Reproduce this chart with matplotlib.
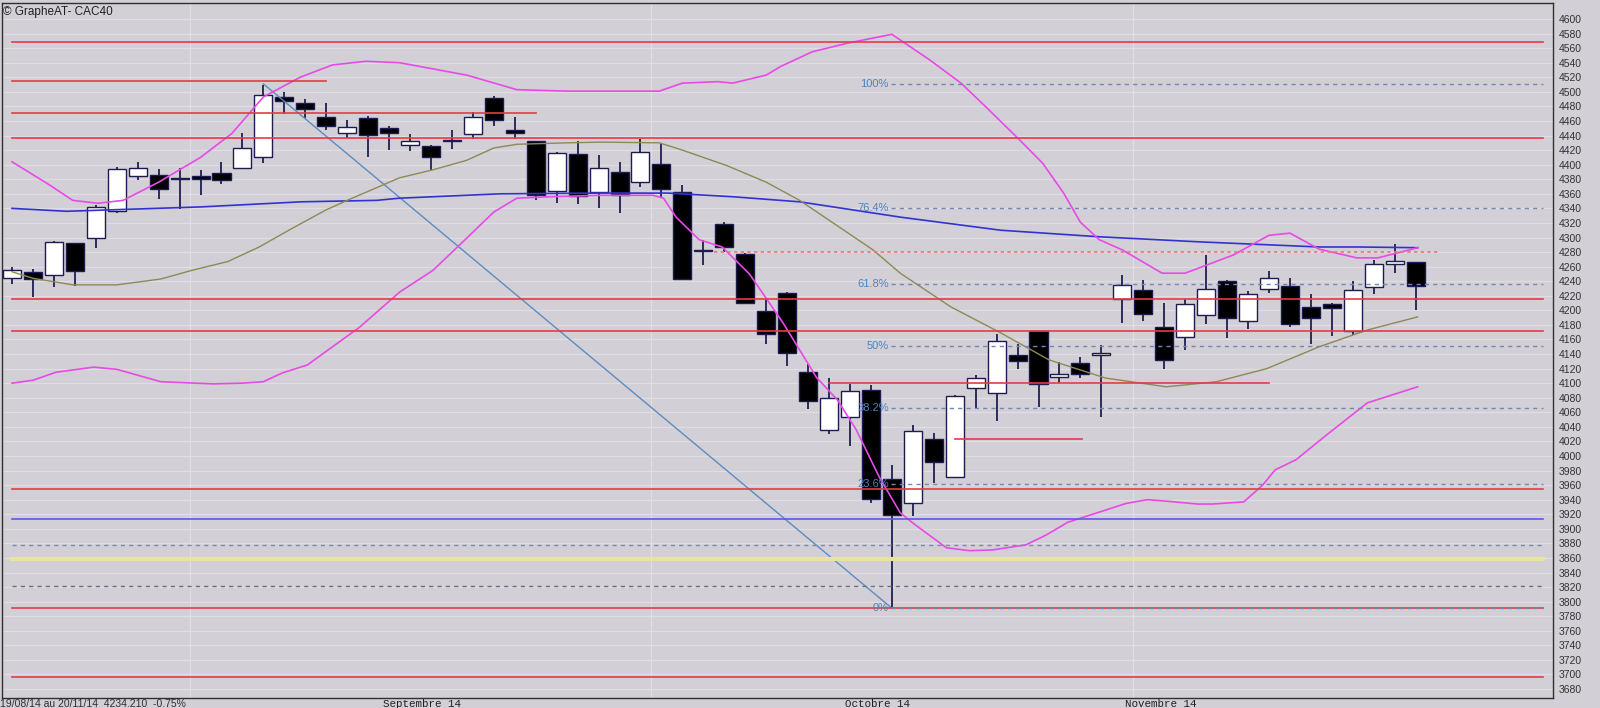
import matplotlib.pyplot as plt
from matplotlib.transforms import blended_transform_factory

# daily candles, 19/08/14 -> 20/11/14 (CAC40)
opens = [4244, 4252, 4248, 4292, 4300, 4337, 4385, 4386, 4381, 4384,
         4389, 4395, 4410, 4493, 4485, 4466, 4443, 4464, 4451, 4427,
         4426, 4433, 4442, 4492, 4448, 4432, 4364, 4415, 4362, 4390,
         4376, 4401, 4363, 4281, 4318, 4278, 4199, 4224, 4116, 4035,
         4054, 4091, 3969, 3936, 4024, 3971, 4093, 4087, 4139, 4171,
         4109, 4128, 4138, 4215, 4228, 4177, 4164, 4194, 4240, 4185,
         4229, 4233, 4204, 4209, 4171, 4232, 4264, 4266]
highs = [4260, 4257, 4295, 4293, 4344, 4397, 4403, 4394, 4396, 4393,
         4403, 4444, 4510, 4500, 4490, 4485, 4461, 4467, 4453, 4442,
         4427, 4447, 4473, 4494, 4465, 4433, 4418, 4432, 4413, 4403,
         4435, 4428, 4372, 4297, 4321, 4279, 4215, 4225, 4126, 4107,
         4099, 4097, 3988, 4043, 4032, 4084, 4111, 4168, 4154, 4172,
         4129, 4136, 4152, 4249, 4241, 4210, 4215, 4276, 4241, 4227,
         4254, 4244, 4222, 4210, 4240, 4269, 4291, 4267]
lows = [4236, 4218, 4232, 4234, 4286, 4334, 4379, 4353, 4339, 4358,
        4374, 4395, 4402, 4470, 4464, 4448, 4436, 4411, 4420, 4419,
        4393, 4422, 4435, 4453, 4435, 4351, 4348, 4346, 4341, 4334,
        4370, 4356, 4243, 4262, 4280, 4210, 4154, 4124, 4065, 4030,
        4014, 3935, 3791, 3917, 3963, 3970, 4064, 4048, 4120, 4067,
        4100, 4107, 4053, 4182, 4186, 4119, 4146, 4181, 4162, 4175,
        4224, 4177, 4154, 4165, 4166, 4223, 4251, 4201]
closes = [4255, 4243, 4294, 4254, 4342, 4394, 4396, 4367, 4380, 4380,
          4379, 4423, 4495, 4487, 4476, 4453, 4452, 4441, 4443, 4432,
          4410, 4434, 4466, 4461, 4444, 4359, 4416, 4357, 4395, 4358,
          4417, 4367, 4243, 4282, 4287, 4210, 4168, 4142, 4075, 4080,
          4089, 3941, 3919, 4034, 3992, 4082, 4107, 4158, 4130, 4099,
          4113, 4112, 4142, 4235, 4195, 4132, 4209, 4229, 4190, 4223,
          4245, 4181, 4189, 4203, 4228, 4263, 4268, 4234]

# bollinger bands / moving averages (candle index, value)
upper_x = [0, 1.8, 2.9, 4.1, 5.3, 7.0, 9.0, 10.5, 12.0, 13.75, 15.3, 16.9, 18.5,
           21.7, 24.1, 26.5, 30.9, 32.0, 33.7, 34.4, 36.0, 36.7, 38.2, 39.9, 42.0,
           43.8, 45.3, 46.5, 48.1, 49.2, 50.2, 51.0, 51.9, 53.0, 54.9, 56.0, 58.3,
           60.0, 61.0, 62.4, 64.2, 65.2, 67.1]
upper_y = [4404, 4372, 4351, 4347, 4351, 4376, 4410, 4443, 4493, 4520, 4537, 4542, 4540,
           4523, 4503, 4501, 4501, 4512, 4514, 4512, 4523, 4535, 4555, 4567, 4579,
           4544, 4512, 4479, 4434, 4402, 4361, 4321, 4297, 4283, 4251, 4251, 4276,
           4303, 4306, 4284, 4272, 4272, 4286]
lower_x = [0, 1, 2.1, 3.9, 5.0, 7.1, 9.6, 11.0, 12.0, 12.9, 14.1, 15.3, 16.6, 18.5,
           20.1, 21.7, 23.0, 24.1, 25.7, 28.1, 30.6, 31.1, 31.7, 32.8, 33.9, 35.2,
           36.8, 38.4, 39.4, 40.3, 41.4, 42.4, 43.0, 44.6, 45.7, 46.8, 48.4, 49.4,
           50.4, 51.8, 53.2, 54.2, 55.1, 56.6, 57.3, 58.8, 59.7, 60.3, 61.3, 62.8,
           64.7, 67.1]
lower_y = [4100, 4104, 4115, 4122, 4119, 4102, 4099, 4100, 4102, 4114, 4125, 4150, 4177, 4225,
           4255, 4299, 4335, 4354, 4356, 4358, 4358, 4354, 4328, 4297, 4287, 4250,
           4183, 4108, 4077, 4036, 3971, 3922, 3908, 3874, 3870, 3871, 3878, 3892,
           3909, 3922, 3935, 3940, 3938, 3934, 3934, 3937, 3960, 3981, 3995, 4030,
           4073, 4095]
mid_x = [0, 1, 2.9, 5.0, 7.1, 8.6, 10.3, 11.8, 13.4, 15.0, 16.0, 18.5, 20.1, 21.7,
         23.0, 24.1, 26.5, 28.1, 30.9, 32.0, 34.1, 36.0, 37.6, 41.1, 42.4, 44.8,
         47.2, 49.5, 52.2, 55.1, 57.5, 59.9, 62.4, 64.7, 67.1]
mid_y = [4253, 4244, 4235, 4235, 4243, 4255, 4267, 4287, 4313, 4338, 4351, 4382, 4393, 4406,
         4423, 4428, 4430, 4431, 4430, 4420, 4399, 4376, 4351, 4283, 4251, 4205,
         4169, 4132, 4107, 4095, 4102, 4120, 4150, 4173, 4191]
ma_x = [0, 2.6, 5.8, 9.0, 13.8, 17.4, 18.5, 23.3, 28.1, 31.3, 34.4, 37.6, 42.4,
        47.2, 51.9, 56.7, 62.4, 64.2, 67.1]
ma_y = [4340, 4336, 4339, 4342, 4349, 4351, 4354, 4360, 4361, 4361, 4356, 4349, 4328,
        4310, 4301, 4294, 4287, 4287, 4286]

# horizontal levels
red_full = [4568, 4437, 4215, 4172, 3955, 3791, 3697]
red_short = [(4515, 0, 15.0), (4471, 0, 25.0), (4100, 39.0, 60.0), (4024, 45.0, 51.1)]
fib_high, fib_low = 4511, 3791
fib_pcts = [100, 76.4, 61.8, 50, 38.2, 23.6, 0]
fib_labels = ['100%', '76.4%', '61.8%', '50%', '38.2%', '23.6%', '0%']
dashed_full = [3878, 3821]
month_labels = ['Septembre 14', 'Octobre 14', 'Novembre 14']
month_pos = [17.71, 39.76, 53.13]
month_breaks = [8.5, 30.5, 53.5]

BG = '#d3cfd6'
XR = 73.08

fig = plt.figure(figsize=(16, 7.08), dpi=100, facecolor=BG)
ax = fig.add_axes([0.00144, 0.01455, 0.96919, 0.98079], facecolor=BG)
ax.set_xlim(-0.463, 73.56)
ax.set_ylim(3668.1, 4621.6)

# grid
for v in range(3680, 4601, 20):
    ax.axhline(v, color='#e0dde3', lw=0.9, zorder=0)
for b in month_breaks:
    ax.axvline(b, color='#e0dde3', lw=0.9, zorder=0)

# candles
n = len(opens)
for i in range(n):
    o, h, l, c = opens[i], highs[i], lows[i], closes[i]
    up = c >= o
    ax.vlines(i, l, h, color='#2c2c5a', lw=1.4, zorder=2)
    bot = min(o, c)
    hgt = max(abs(c - o), 1.5)
    ax.bar(i, hgt, bottom=bot, width=0.86,
           color='white' if up else 'black',
           edgecolor='#1c1c50', lw=1.0, zorder=3)

# indicator lines
ax.plot(ma_x, ma_y, color='#3232d2', lw=1.2, zorder=5)
ax.plot(mid_x, mid_y, color='#8c8a55', lw=1.0, zorder=5)
ax.plot(upper_x, upper_y, color='#e84ae8', lw=1.2, zorder=5)
ax.plot(lower_x, lower_y, color='#e84ae8', lw=1.2, zorder=5)

# trend line high -> low
ax.plot([12, 42], [fib_high, fib_low], color='#5a8cc0', lw=1.0, zorder=4)

# levels
for v in red_full:
    ax.plot([0, XR], [v, v], color='#e23c46', lw=1.2, zorder=6)
for v, a, b in red_short:
    ax.plot([a, b], [v, v], color='#e23c46', lw=1.2, zorder=6)
ax.plot([33.5, 68.1], [4280, 4280], color='#e87878', lw=1.2, ls=(0, (2, 2)), zorder=6)
ax.plot([0, XR], [3914, 3914], color='#5a5ae6', lw=1.2, zorder=6)
ax.plot([0, XR], [3859, 3859], color='#e9e2a4', lw=3.0, zorder=6)
ax.plot([0, XR], [dashed_full[0]] * 2, color='#7a8cac', lw=1.0, ls=(0, (3, 3)), zorder=6)
ax.plot([0, XR], [dashed_full[1]] * 2, color='#6c6c80', lw=1.0, ls=(0, (3, 3)), zorder=6)

for p, lab in zip(fib_pcts, fib_labels):
    v = fib_low + (fib_high - fib_low) * p / 100
    ax.plot([41.95, XR], [v, v], color='#6e8ab4', lw=1.0, ls=(0, (3, 3)), zorder=6)
    ax.text(41.85, v, lab, ha='right', va='center', fontsize=8,
            color='#4a86c0', family='Liberation Sans', zorder=7)

# axes styling
for s in ax.spines.values():
    s.set_color('#303030')
    s.set_linewidth(1.0)
ax.set_xticks([])
ax.yaxis.tick_right()
ax.set_yticks(range(3680, 4601, 20))
ax.tick_params(axis='y', length=0, pad=4, labelsize=7.5, labelcolor='#333333')
for t in ax.get_yticklabels():
    t.set_family('Liberation Sans')

# texts
fig.text(3 / 1600, 1 - 12 / 708, '\u00a9 GrapheAT- CAC40', ha='left', va='center',
         fontsize=8.5, family='Liberation Sans', color='#202020')
fig.text(0.0, 0.006, '19/08/14 au 20/11/14  4234.210  -0.75%', ha='left', va='center',
         fontsize=7.5, family='Liberation Sans', color='#303030')
tr = blended_transform_factory(ax.transData, fig.transFigure)
for lab, x in zip(month_labels, month_pos):
    ax.text(x, 0.006, lab, transform=tr, ha='left', va='center', fontsize=7.8,
            family='Liberation Mono', color='#202020', clip_on=False)

fig.savefig('out.png', dpi=100, facecolor=BG)
